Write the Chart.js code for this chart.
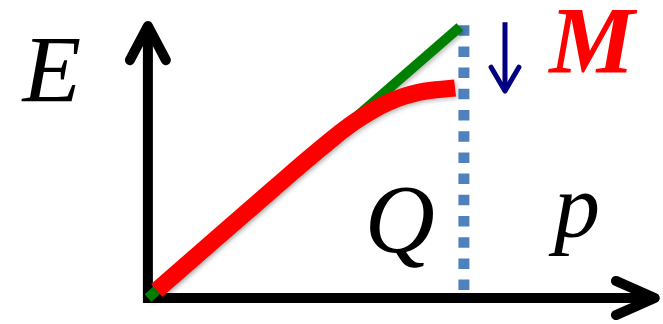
<!DOCTYPE html>
<html>
<head>
<meta charset="utf-8">
<script src="https://cdn.jsdelivr.net/npm/chart.js@4"></script>
<style>
  body { margin: 0; background: #fff; }
  #wrap { width: 663px; height: 324px; }
</style>
</head>
<body>
<div id="wrap"><canvas id="diagram"></canvas></div>
<script>
// data units: origin at the corner of the axes, Q sits at x = 1
const greenLine = [[0, 0], [0.987, 1.0]];
const redCurve = [[0.028, 0.028], [0.40, 0.406], [0.56, 0.565], [0.66, 0.655], [0.76, 0.722], [0.86, 0.760], [0.972, 0.775]];
const qLine = [[1.0, 1.007], [1.0, 0.015]];
const yAxis = [[0, -0.018], [0, 1.004]];
const yAxisHead = [[-0.057, 0.878], [0, 1.004], [0.057, 0.878]];
const xAxis = [[-0.015, 0], [1.604, 0]];
const xAxisHead = [[1.481, 0.063], [1.604, 0], [1.481, -0.063]];
const downArrow = [[1.130, 1.018], [1.130, 0.764]];
const downArrowHead = [[1.086, 0.852], [1.130, 0.764], [1.174, 0.852]];
const labels = ['E', 'Q', 'p', 'M'];
const labelX = [-0.304, 0.797, 1.358, 1.405];
const labelY = [0.723, 0.168, 0.225, 0.830];

function pts(arr) {
    return arr.map(p => ({ x: p[0], y: p[1] }));
}

function seg(data, color, width, order, extra) {
    return Object.assign({
        data: pts(data),
        showLine: true,
        borderColor: color,
        borderWidth: width,
        pointRadius: 0,
        fill: false,
        tension: 0,
        order: order
    }, extra || {});
}

// faint drop shadow like the original slide
const shadowPlugin = {
    id: 'shadow',
    beforeDatasetDraw(chart, args) {
        const ds = chart.data.datasets[args.index];
        if (ds.shadow) {
            chart.ctx.save();
            chart.ctx.shadowColor = 'rgba(0,0,0,0.25)';
            chart.ctx.shadowBlur = 4;
            chart.ctx.shadowOffsetX = 2;
            chart.ctx.shadowOffsetY = 2;
        }
    },
    afterDatasetDraw(chart, args) {
        const ds = chart.data.datasets[args.index];
        if (ds.shadow) chart.ctx.restore();
    }
};

const labelPlugin = {
    id: 'labels',
    afterDraw(chart) {
        const ctx = chart.ctx;
        const sx = chart.scales.x, sy = chart.scales.y;
        ctx.save();
        ctx.textAlign = 'center';
        ctx.textBaseline = 'alphabetic';
        labels.forEach((t, i) => {
            if (t === 'M') {
                ctx.font = 'italic bold 96px "Liberation Serif"';
                ctx.fillStyle = '#ff0000';
            } else {
                ctx.font = 'italic ' + (t === 'Q' ? 97 : t === 'p' ? 92 : 96) + 'px "Liberation Serif"';
                ctx.fillStyle = '#000';
            }
            ctx.fillText(t, sx.getPixelForValue(labelX[i]), sy.getPixelForValue(labelY[i]));
        });
        ctx.restore();
    }
};

new Chart(document.getElementById('diagram'), {
    type: 'scatter',
    data: {
        datasets: [
            seg(redCurve, '#ff0000', 17, 0, { tension: 0.4, borderCapStyle: 'butt', shadow: true }),
            seg(greenLine, '#008000', 10, 1, { shadow: true }),
            seg(qLine, '#4f81bd', 11, 2, { borderDash: [10.5, 10.7] }),
            seg(yAxis, '#000', 10, 3),
            seg(yAxisHead, '#000', 10, 3, { borderCapStyle: 'round', borderJoinStyle: 'round' }),
            seg(xAxis, '#000', 10, 3),
            seg(xAxisHead, '#000', 10, 3, { borderCapStyle: 'round', borderJoinStyle: 'round' }),
            seg(downArrow, '#000080', 5, 3),
            seg(downArrowHead, '#000080', 5, 3, { borderCapStyle: 'round', borderJoinStyle: 'round' })
        ]
    },
    options: {
        responsive: true,
        maintainAspectRatio: false,
        animation: false,
        layout: { padding: 0 },
        scales: {
            x: { type: 'linear', display: false, min: -0.468, max: 1.630 },
            y: { type: 'linear', display: false, min: -0.096, max: 1.100 }
        },
        plugins: {
            legend: { display: false },
            tooltip: { enabled: false }
        }
    },
    plugins: [shadowPlugin, labelPlugin]
});
</script>
</body>
</html>
